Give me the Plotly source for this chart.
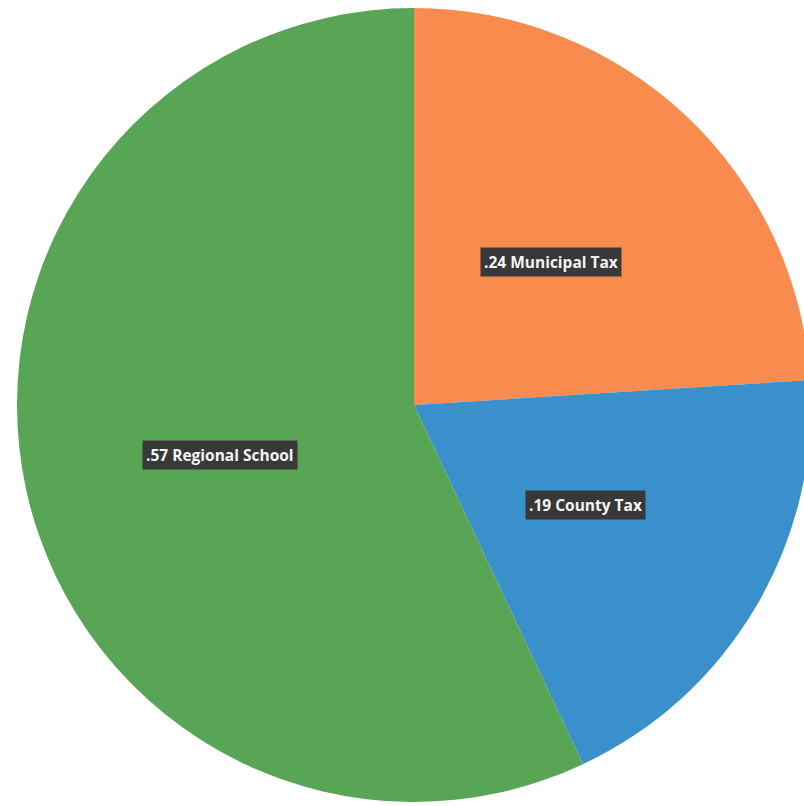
import plotly.graph_objects as go

categories = ["Municipal Tax", "County Tax", "Regional School"]
values = [0.24, 0.19, 0.57]
label_texts = [".24 Municipal Tax", ".19 County Tax", ".57 Regional School"]
colors = ["#F98B4E", "#3990CA", "#58A655"]

W, H = 812, 806
cx, cy, r = 414, 405, 397

fig = go.Figure(go.Pie(
    labels=categories,
    values=values,
    sort=False,
    direction="clockwise",
    rotation=0,
    marker=dict(colors=colors, line=dict(width=0)),
    textinfo="none",
    hoverinfo="label+value",
    showlegend=False,
    domain=dict(x=[(cx - r) / W, (cx + r) / W], y=[(H - cy - r) / H, (H - cy + r) / H]),
))

label_pos = [(551, 262), (585, 505), (220, 455)]
for (px, py), t in zip(label_pos, label_texts):
    fig.add_annotation(x=px / W, y=1 - py / H, xref="paper", yref="paper",
                       xanchor="center", yanchor="middle",
                       text=t, showarrow=False,
                       font=dict(family="Open Sans", size=15.5, color="#F4F4F4", weight="bold"),
                       bgcolor="#383838", borderpad=3)

fig.update_layout(
    width=W, height=H,
    margin=dict(l=0, r=0, t=0, b=0),
    paper_bgcolor="#FFFFFF",
    plot_bgcolor="#FFFFFF",
)

fig.write_html("out.html", config={"displayModeBar": False},
               post_script="document.body.style.margin='0';document.body.style.overflow='hidden';")
